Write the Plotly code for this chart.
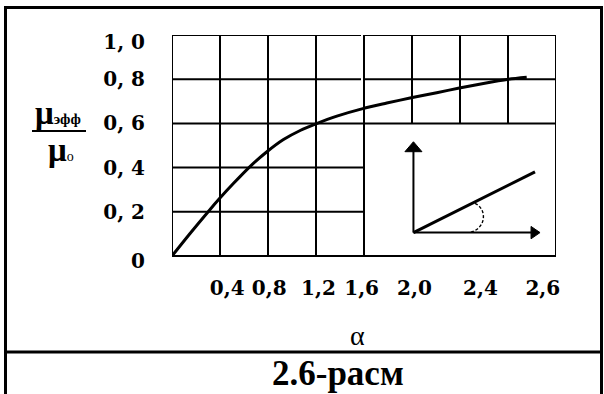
import plotly.graph_objects as go

# --- data -------------------------------------------------------------
# relative effective permeability vs. alpha
alpha = [0.0, 0.152, 0.305, 0.396, 0.513, 0.652, 0.796, 0.929, 1.068, 1.199,
         1.374, 1.590, 1.790, 1.993, 2.206, 2.395, 2.595, 2.803, 2.956]
mu_ratio = [0.0, 0.103, 0.203, 0.260, 0.329, 0.406, 0.474, 0.527, 0.568, 0.598,
            0.633, 0.667, 0.692, 0.716, 0.739, 0.760, 0.781, 0.800, 0.809]

x_tick_text = ["0,4", "0,8", "1,2", "1,6", "2,0", "2,4", "2,6"]
y_tick_text = ["0", "0, 2", "0, 4", "0, 6", "0, 8", "1, 0"]

# --- layout geometry --------------------------------------------------
W, H = 604, 394
L, R, T, B = 172, 48, 35, 132
Y_MIN = -0.027
PW, PH = W - L - R, H - T - B

x_label_pos = [0.46, 0.81, 1.22, 1.58, 2.02, 2.57, 3.09]
y_label_pos = [-0.022, 0.2, 0.4, 0.6, 0.8, 0.97]


def px(x):
    return (x - L) / PW


def py(y):
    return (H - B - y) / PH


fig = go.Figure()

fig.add_trace(go.Scatter(
    x=alpha, y=mu_ratio, mode="lines",
    line=dict(color="black", width=3, shape="spline", smoothing=0.8),
    hoverinfo="skip", showlegend=False,
))

shapes = []
grid_line = dict(color="black", width=2)


def seg(x0, y0, x1, y1, line=grid_line):
    shapes.append(dict(type="line", xref="x", yref="y", x0=x0, y0=y0, x1=x1, y1=y1,
                       line=line, layer="below"))


# horizontal grid lines
seg(0, 0, 3.2, 0)
seg(0, 0.6, 3.2, 0.6)
for yv in (0.8, 1.0):
    seg(0, yv, 1.575, yv)
    seg(1.595, yv, 3.2, yv)
for yv in (0.2, 0.4):
    seg(0, yv, 1.6, yv)
# vertical grid lines
for xv in (0, 0.4, 0.8, 1.2, 1.6, 3.2):
    seg(xv, 0, xv, 1.0)
for xv in (2.0, 2.4, 2.8):
    seg(xv, 0.6, xv, 1.0)

# inset sketch: axes with arrows, slanted line and angle arc
ox, oy = 2.012, 0.106
thin = dict(color="black", width=2)
seg(ox, oy, ox, 0.475, thin)
seg(ox, oy, 2.995, oy, thin)
seg(ox, oy, 3.025, 0.381, dict(color="black", width=3))
shapes.append(dict(type="path", xref="x", yref="y",
                   path=f"M {ox-0.071} 0.472 L {ox} 0.517 L {ox+0.071} 0.472 Z",
                   fillcolor="black", line=dict(color="black", width=1)))
shapes.append(dict(type="path", xref="x", yref="y",
                   path=f"M 2.992 {oy+0.028} L 3.067 {oy} L 2.992 {oy-0.028} Z",
                   fillcolor="black", line=dict(color="black", width=1)))
shapes.append(dict(type="path", xref="x", yref="y",
                   path="M 2.525 0.238 C 2.625 0.215 2.625 0.125 2.480 0.106",
                   line=dict(color="black", width=1.4, dash="3px,2px")))

# outer frame and caption separator
frame = dict(color="black", width=3)
shapes.append(dict(type="line", xref="paper", yref="paper",
                   x0=px(4), y0=py(7.5), x1=px(602), y1=py(7.5), line=frame))
shapes.append(dict(type="line", xref="paper", yref="paper",
                   x0=px(5.5), y0=py(6), x1=px(5.5), y1=py(400), line=frame))
shapes.append(dict(type="line", xref="paper", yref="paper",
                   x0=px(601.5), y0=py(6), x1=px(601.5), y1=py(400), line=frame))
shapes.append(dict(type="line", xref="paper", yref="paper",
                   x0=px(4), y0=py(352), x1=px(602), y1=py(352), line=frame))
# fraction bar of the y-axis label
shapes.append(dict(type="line", xref="paper", yref="paper",
                   x0=px(32), y0=py(131), x1=px(86), y1=py(131),
                   line=dict(color="black", width=2)))

serif = "Liberation Serif"


def label(x, y, text, size, family=serif):
    return dict(x=px(x), y=py(y), xref="paper", yref="paper", showarrow=False,
                xanchor="center", yanchor="middle", text=text,
                font=dict(family=family, size=size, color="black"))


annotations = [
    label(58, 113, "<b>μ</b><span style='font-size:15px'><b>эфф</b></span>", 33),
    label(61, 150, "<b>μ</b><span style='font-size:14px'>о</span>", 33),
    label(357, 335, "α", 28),
    label(338, 373, "<b>2.6-расм</b>", 35),
]

tick_font = dict(family="DejaVu Serif", size=20, color="black", weight="bold")

fig.update_layout(
    width=W, height=H,
    margin=dict(l=L, r=R, t=T, b=B, pad=0),
    paper_bgcolor="white", plot_bgcolor="white",
    shapes=shapes, annotations=annotations,
    showlegend=False,
    xaxis=dict(range=[0, 3.2], showgrid=False, zeroline=False, showline=False,
               tickmode="array", tickvals=x_label_pos, ticktext=x_tick_text,
               ticks="outside", ticklen=8, tickcolor="rgba(0,0,0,0)",
               tickfont=tick_font, fixedrange=True),
    yaxis=dict(range=[Y_MIN, 1.0], showgrid=False, zeroline=False, showline=False,
               tickmode="array", tickvals=y_label_pos, ticktext=y_tick_text,
               ticks="outside", ticklen=22, tickcolor="rgba(0,0,0,0)",
               tickfont=tick_font, fixedrange=True),
)

fig.write_html("out.html", config={"displayModeBar": False})
